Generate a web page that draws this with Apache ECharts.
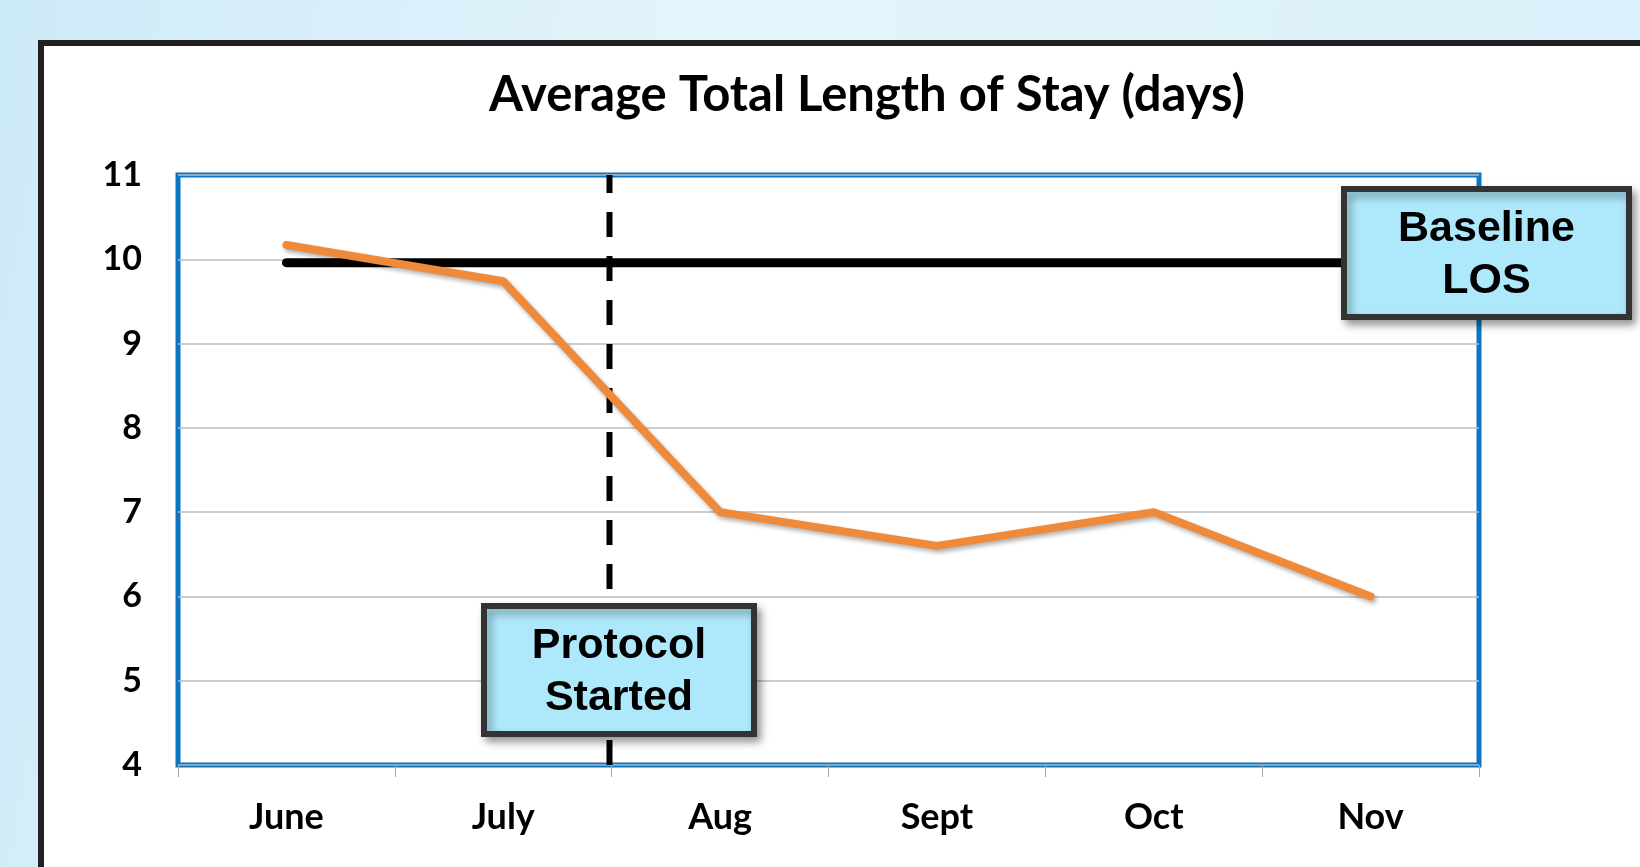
<!DOCTYPE html>
<html>
<head>
<meta charset="utf-8">
<script src="https://cdn.jsdelivr.net/npm/echarts@6/dist/echarts.min.js"></script>
<style>
  html, body { margin: 0; padding: 0; }
  body { background: linear-gradient(100deg, #cdeaf8 0%, #e4f4fb 40%, #d9f0fa 100%); }
  #chart { width: 1640px; height: 867px; }
</style>
</head>
<body>
<div id="chart"></div>
<script>
const months   = ['June', 'July', 'Aug', 'Sept', 'Oct', 'Nov']
const losDays  = [10.17, 9.74, 7.0, 6.6, 7.0, 6.0]
const baseline = [9.96, 9.96, 9.96, 9.96, 9.96, 9.96]
// protocol start sits between July and Aug (index 2 on a 0..6 band scale)
const protocolAt = [[1.99, 4], [1.99, 11]]

const FONT = 'Lato, "Open Sans", sans-serif'
const ORANGE = '#ef8a3a'
const BOX_FILL = '#aee9fb'

const chart = echarts.init(document.getElementById('chart'))

// 注释框
function noteBox(x, y, w, h, lines) {
  return {
    type: 'group', x, y,
    children: [
      {
        type: 'rect', z: 100,
        shape: { width: w, height: h },
        style: {
          fill: BOX_FILL, stroke: '#333', lineWidth: 6,
          shadowBlur: 8, shadowOffsetX: 4, shadowOffsetY: 5, shadowColor: 'rgba(0,0,0,0.35)',
        },
      },
      {
        type: 'text', z: 101,
        x: w / 2, y: h / 2 + 2,
        style: {
          text: lines.join('\n'),
          fill: '#000',
          font: 'bold 43px "Liberation Sans", Arial, sans-serif',
          lineHeight: 52,
          align: 'center', verticalAlign: 'middle',
        },
      },
    ],
  }
}

chart.setOption({
  animation: false,
  backgroundColor: 'transparent',
  title: {
    text: 'Average Total Length of Stay (days)',
    left: 862, top: 66, textAlign: 'center',
    textStyle: { fontFamily: FONT, fontSize: 49, fontWeight: 'bold', color: '#000' },
  },
  graphic: [
    {
      type: 'rect', z: -10, silent: true,
      shape: { x: 41, y: 43, width: 1620, height: 860 },
      style: { fill: '#fff', stroke: '#231f20', lineWidth: 6 },
    },
    noteBox(1344, 189, 285, 128, ['Baseline', 'LOS']),
    noteBox(484, 606, 270, 128, ['Protocol', 'Started']),
  ],
  grid: {
    left: 178, right: 161, top: 175, bottom: 102,
    show: true, borderColor: '#0a76c4', borderWidth: 5, backgroundColor: '#fff',
  },
  xAxis: [
    {
      type: 'category',
      data: months,
      boundaryGap: true,
      axisLine: { show: true, lineStyle: { color: '#9a9a9a', width: 1 } },
      axisTick: { show: true, length: 12, lineStyle: { color: '#a6a6a6' } },
      axisLabel: { color: '#000', fontFamily: FONT, fontWeight: 'bold', fontSize: 36, margin: 34 },
      splitLine: { show: false },
    },
    {
      type: 'value', min: 0, max: 6, show: false,
      splitLine: { show: false },
    },
  ],
  yAxis: {
    type: 'value', min: 4, max: 11, interval: 1,
    axisLine: { show: false },
    axisTick: { show: false },
    axisLabel: { color: '#000', fontFamily: FONT, fontWeight: 'bold', fontSize: 34, margin: 36 },
    splitLine: { lineStyle: { color: '#bdbdbd', width: 1.5 } },
  },
  series: [
    {
      name: 'Protocol',
      type: 'line',
      xAxisIndex: 1,
      data: protocolAt,
      symbol: 'none',
      lineStyle: { color: '#000', width: 6, type: [25, 19] },
      z: 3,
    },
    {
      name: 'Baseline LOS',
      type: 'line',
      data: baseline,
      symbol: 'none',
      lineStyle: { color: '#000', width: 9, cap: 'round' },
      z: 4,
    },
    {
      name: 'LOS',
      type: 'line',
      data: losDays,
      symbol: 'none',
      lineStyle: {
        color: ORANGE, width: 8, cap: 'round', join: 'round',
        shadowBlur: 4, shadowOffsetX: 2, shadowOffsetY: 3, shadowColor: 'rgba(0,0,0,0.3)',
      },
      z: 5,
    },
  ],
})
</script>
</body>
</html>
